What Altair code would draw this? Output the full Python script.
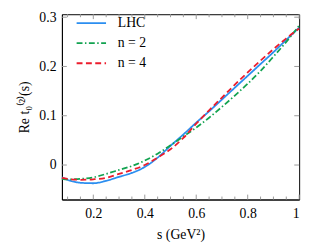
import altair as alt
import pandas as pd

s_vals = [0.078, 0.1, 0.15, 0.2, 0.25, 0.3, 0.35, 0.4, 0.45, 0.5, 0.55, 0.6,
          0.65, 0.7, 0.75, 0.8, 0.85, 0.9, 0.95, 1.0]
lhc = [-0.025, -0.030, -0.036, -0.037, -0.032, -0.024, -0.016, -0.004, 0.015, 0.039,
       0.062, 0.086, 0.109, 0.133, 0.157, 0.181, 0.205, 0.229, 0.254, 0.279]
n2 = [-0.028, -0.029, -0.028, -0.025, -0.018, -0.010, -0.002, 0.009, 0.023, 0.040,
      0.058, 0.076, 0.096, 0.118, 0.141, 0.165, 0.191, 0.220, 0.250, 0.283]
n4 = [-0.026, -0.028, -0.030, -0.029, -0.026, -0.018, -0.010, 0.000, 0.015, 0.032,
      0.055, 0.084, 0.111, 0.137, 0.163, 0.188, 0.212, 0.235, 0.257, 0.277]

series_names = ["LHC", "n = 2", "n = 4"]
series_colors = ["#2b8ef0", "#12a350", "#ec1c2c"]
series_dash = [[1, 0], [6, 2.5, 1.5, 2.5], [6, 3.5]]

x_major = [0.2, 0.4, 0.6, 0.8, 1.0]
x_minor = [0.1, 0.15, 0.25, 0.3, 0.35, 0.45, 0.5, 0.55, 0.65, 0.7, 0.75, 0.85, 0.9, 0.95]
y_major = [0.0, 0.1, 0.2, 0.3]

rows = []
for name, vals in zip(series_names, [lhc, n2, n4]):
    for s, v in zip(s_vals, vals):
        rows.append({"s": s, "v": v, "series": name})
df = pd.DataFrame(rows)

W, H = 242, 189
FONT = "Liberation Serif"
FS = 14

xscale = alt.Scale(domain=[0.078, 1.0], nice=False, zero=False)
yscale = alt.Scale(domain=[-0.07, 0.306], nice=False, zero=False)

xaxis = alt.Axis(values=x_major, title="s (GeV²)", ticks=False, grid=False,
                 labelExpr="datum.value == 1 ? '1' : format(datum.value, '.1f')",
                 labelPadding=7, titlePadding=8,
                 labelFont=FONT, labelFontSize=FS, titleFont=FONT, titleFontSize=FS)
yaxis = alt.Axis(values=y_major, title="Re t₀⁽²⁾(s)", ticks=False, grid=False,
                 labelExpr="datum.value == 0 ? '0' : format(datum.value, '.1f')",
                 labelPadding=6, titlePadding=8,
                 labelFont=FONT, labelFontSize=FS, titleFont=FONT, titleFontSize=FS)

lines = alt.Chart(df).mark_line(strokeWidth=1.8, interpolate="monotone").encode(
    x=alt.X("s:Q", scale=xscale, axis=xaxis),
    y=alt.Y("v:Q", scale=yscale, axis=yaxis),
    color=alt.Color("series:N", sort=series_names,
                    scale=alt.Scale(domain=series_names, range=series_colors),
                    legend=alt.Legend(title=None, orient="none", legendX=21.5, legendY=0.5,
                                      symbolType="M-2,0H2", symbolSize=225,
                                      symbolStrokeWidth=1.8, symbolFillColor="transparent",
                                      labelFont=FONT, labelFontSize=FS, rowPadding=4.5,
                                      labelOffset=18.5, padding=0)),
    strokeDash=alt.StrokeDash("series:N", sort=series_names,
                              scale=alt.Scale(domain=series_names, range=series_dash),
                              legend=None),
)

tick_color = "#9a9a9a"
xmaj_df = pd.DataFrame({"t": x_major})
xmin_df = pd.DataFrame({"t": x_minor})
ymaj_df = pd.DataFrame({"t": y_major})

def xticks(d, length):
    bot = alt.Chart(d).mark_rule(color=tick_color, strokeWidth=1).encode(
        x=alt.X("t:Q", scale=xscale, axis=xaxis), y=alt.value(H), y2=alt.value(H - length))
    top = alt.Chart(d).mark_rule(color=tick_color, strokeWidth=1).encode(
        x=alt.X("t:Q", scale=xscale, axis=xaxis), y=alt.value(0), y2=alt.value(length))
    return [bot, top]

def yticks(d, length):
    left = alt.Chart(d).mark_rule(color=tick_color, strokeWidth=1).encode(
        y=alt.Y("t:Q", scale=yscale, axis=yaxis), x=alt.value(0), x2=alt.value(length))
    right = alt.Chart(d).mark_rule(color=tick_color, strokeWidth=1).encode(
        y=alt.Y("t:Q", scale=yscale, axis=yaxis), x=alt.value(W), x2=alt.value(W - length))
    return [left, right]

layers = [lines] + xticks(xmaj_df, 5) + xticks(xmin_df, 3) + yticks(ymaj_df, 5)

chart = alt.layer(*layers).properties(
    width=W, height=H,
    autosize=alt.AutoSizeParams(type="none"),
    padding={"left": 55, "top": 4, "right": 8, "bottom": 42},
    background="white",
).configure(font=FONT).configure_view(stroke="black", strokeWidth=1).configure_axis(
    domainColor="black", labelColor="black", titleColor="black", titleFontWeight="normal",
).configure_legend(labelColor="black")

chart.save("out.html", embed_options={"renderer": "svg", "actions": False})
